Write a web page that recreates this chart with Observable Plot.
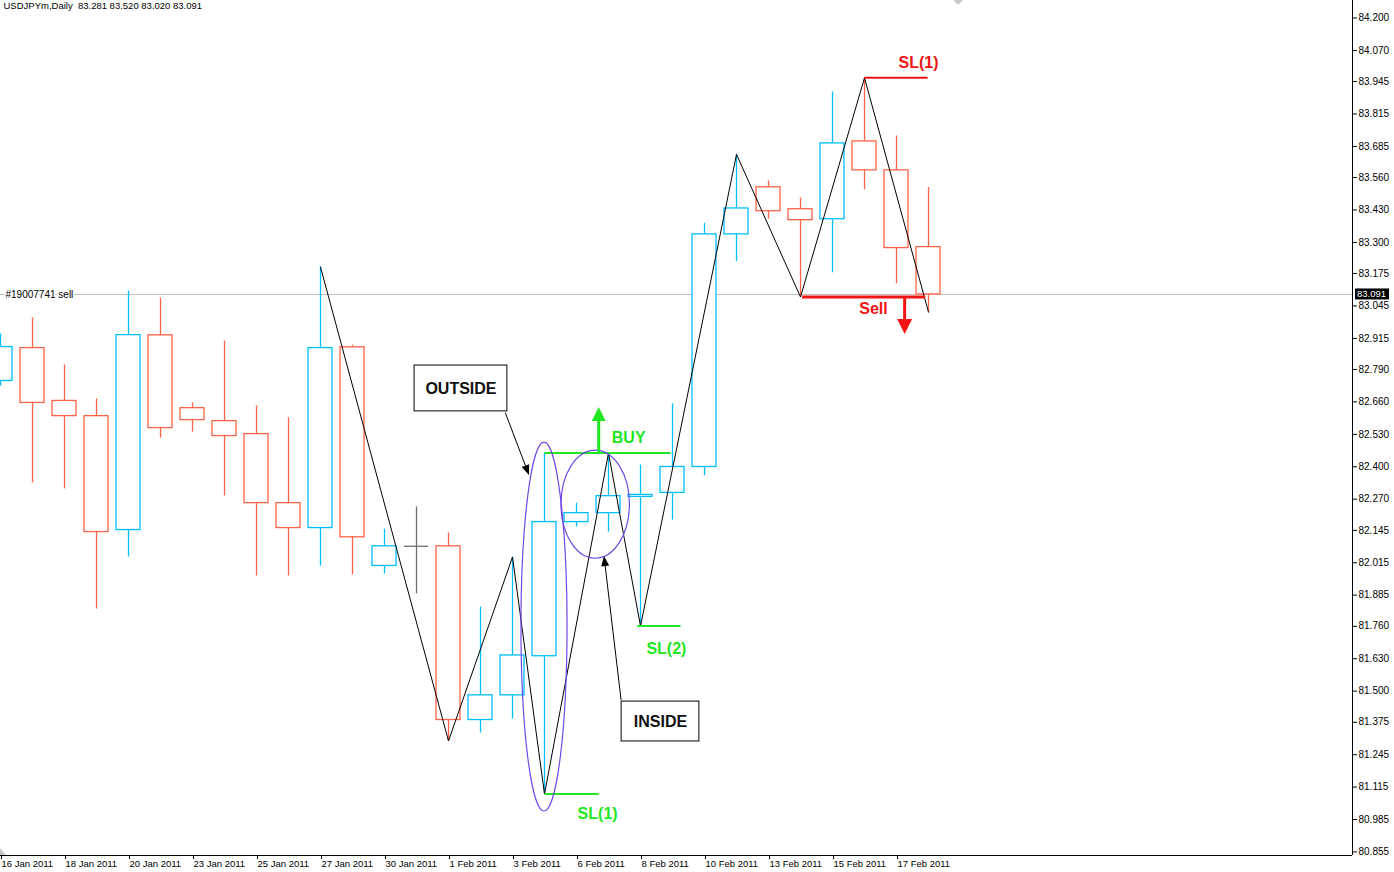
<!DOCTYPE html>
<html>
<head>
<meta charset="utf-8">
<script src="https://cdn.jsdelivr.net/npm/d3@7"></script>
<script src="https://cdn.jsdelivr.net/npm/@observablehq/plot@0.6"></script>
<style>
  body { margin: 0; background: white; }
</style>
</head>
<body>
<div id="chart"></div>
<script>
// USDJPYm daily candles, 16 Jan - 18 Feb 2011
const dates = ["16 Jan 2011","17 Jan 2011","18 Jan 2011","19 Jan 2011","20 Jan 2011","21 Jan 2011",
  "23 Jan 2011","24 Jan 2011","25 Jan 2011","26 Jan 2011","27 Jan 2011","28 Jan 2011",
  "30 Jan 2011","31 Jan 2011","1 Feb 2011","2 Feb 2011","3 Feb 2011","4 Feb 2011",
  "6 Feb 2011","7 Feb 2011","8 Feb 2011","9 Feb 2011","10 Feb 2011","11 Feb 2011",
  "13 Feb 2011","14 Feb 2011","15 Feb 2011","16 Feb 2011","17 Feb 2011","18 Feb 2011"];
const opens  = [82.744,82.876,82.664,82.603,82.146,82.927,82.635,82.583,82.531,82.254,82.154,82.879,
  82.002,82.081,82.081,81.384,81.483,81.640,82.178,82.214,82.279,82.295,82.399,83.332,
  83.521,83.433,83.393,83.705,83.589,83.281];
const highs  = [82.932,82.997,82.808,82.672,83.105,83.077,82.656,82.904,82.644,82.596,83.201,82.888,
  82.150,82.239,82.134,81.837,82.038,82.455,82.254,82.455,82.407,82.652,83.376,83.653,
  83.546,83.478,83.903,83.960,83.727,83.520];
const lows   = [82.724,82.335,82.311,81.829,82.038,82.515,82.539,82.283,81.962,81.962,82.002,81.966,
  81.970,81.890,81.300,81.332,81.388,81.087,82.158,82.138,81.761,82.186,82.364,83.223,
  83.393,83.081,83.178,83.511,83.134,83.020];
const closes = [82.880,82.656,82.603,82.138,82.928,82.555,82.587,82.523,82.254,82.154,82.876,82.117,
  82.081,82.081,81.384,81.483,81.643,82.178,82.214,82.282,82.287,82.399,83.332,83.436,
  83.425,83.389,83.697,83.589,83.277,83.091];

// right price scale labels
const yTicks = [84.200,84.070,83.945,83.815,83.685,83.560,83.430,83.300,83.175,83.045,82.915,82.790,
  82.660,82.530,82.400,82.270,82.145,82.015,81.885,81.760,81.630,81.500,81.375,81.245,81.115,80.985,80.855];
// every second bar gets a date label
const xTicks = d3.range(0, dates.length, 2);

// zigzag turning points (bar index, price)
const zzIndex = [10, 14, 16, 17, 19, 20, 23, 25, 27, 29];
const zzPrice = [83.201, 81.300, 82.038, 81.087, 82.455, 81.761, 83.653, 83.081, 83.960, 83.020];

// trade levels: from bar, to bar, price
const levelNames = ["SL(1) buy", "BUY", "SL(2)", "SL(1) sell", "Sell"];
const levelFrom  = [17, 17, 19.9, 27, 25.05];
const levelTo    = [18.69, 20.94, 21.25, 28.97, 28.9];
const levelPrice = [81.087, 82.455, 81.761, 83.960, 83.081];
const levelSide  = ["buy", "buy", "buy", "sell", "sell"];

// text labels on the chart
const noteText  = ["SL(1)", "BUY", "SL(2)", "SL(1)", "Sell"];
const noteIndex = [18.66, 19.63, 20.81, 28.69, 27.28];
const notePrice = [81.009, 82.517, 81.671, 84.019, 83.035];
const noteSide  = ["buy", "buy", "buy", "sell", "sell"];

// boxed pattern names
const boxText  = ["OUTSIDE", "INSIDE"];
const boxFrom  = [12.94, 19.41];
const boxTo    = [15.84, 21.84];
const boxLow   = [82.622, 81.298];
const boxHigh  = [82.806, 81.458];

// ellipses round the two bars (bar range, price range)
const ringFrom = [16.28, 17.53];
const ringTo   = [17.72, 19.67];
const ringLow  = [81.017, 82.031];
const ringHigh = [82.497, 82.465];

// arrows: start bar/price, end bar/price
const arrowKind  = ["pointer", "pointer", "buy", "sell"];
const arrowFromX = [15.79, 19.41, 18.71, 28.27];
const arrowFromY = [82.615, 81.462, 82.455, 83.081];
const arrowToX   = [16.53, 18.875, 18.71, 28.27];
const arrowToY   = [82.365, 82.040, 82.638, 82.930];

// chart shift marker position (bar index)
const shiftIndex = 29.94;

const orderLabel = "#19007741 sell";
const header = "USDJPYm,Daily\u00a0 83.281 83.520 83.020 83.091";

const up = "#00bfff", down = "#ff6347", flat = "#707070";
const green = "#22e622", red = "#f41414";
const sideColor = {buy: green, sell: red};
const arrowStyle = {
  pointer: {color: "black", width: 1, head: 10, half: 4},
  buy: {color: green, width: 3, head: 14, half: 7},
  sell: {color: red, width: 3, head: 15, half: 7.5}
};

const candles = dates.map((date, i) => ({
  i, date, open: opens[i], high: highs[i], low: lows[i], close: closes[i]
}));
const candleColor = d => d.close > d.open ? up : d.close < d.open ? down : flat;
const bodies = candles.filter(d => d.close !== d.open);
const dojis = candles.filter(d => d.close === d.open);
const zigzag = zzIndex.map((i, k) => ({i, price: zzPrice[k]}));
const levels = levelNames.map((name, k) => ({name, x1: levelFrom[k], x2: levelTo[k], price: levelPrice[k], side: levelSide[k]}));
const notes = noteText.map((text, k) => ({text, i: noteIndex[k], price: notePrice[k], side: noteSide[k]}));
const boxes = boxText.map((text, k) => ({text, x1: boxFrom[k], x2: boxTo[k], y1: boxLow[k], y2: boxHigh[k]}));
const rings = ringFrom.map((x1, k) => ({x1, x2: ringTo[k], y1: ringLow[k], y2: ringHigh[k]}));
const arrows = arrowKind.map((kind, k) => ({kind, x1: arrowFromX[k], y1: arrowFromY[k], x2: arrowToX[k], y2: arrowToY[k]}));
const last = candles[candles.length - 1];

const xDomain = [0, 42.25];
const yDomain = [80.8406, 84.2702];

// ellipses, filled arrow heads and the price tag, placed with the plot's scales
function overlay(index, {x, y}, values, dims) {
  const g = d3.create("svg:g");
  for (const e of rings) {
    g.append("ellipse")
      .attr("cx", (x(e.x1) + x(e.x2)) / 2)
      .attr("cy", (y(e.y1) + y(e.y2)) / 2)
      .attr("rx", Math.abs(x(e.x2) - x(e.x1)) / 2)
      .attr("ry", Math.abs(y(e.y2) - y(e.y1)) / 2)
      .attr("fill", "none")
      .attr("stroke", "#7048e8")
      .attr("stroke-width", 1.2);
  }
  for (const a of arrows) {
    const st = arrowStyle[a.kind];
    const x1 = x(a.x1), y1 = y(a.y1), x2 = x(a.x2), y2 = y(a.y2);
    const ang = Math.atan2(y2 - y1, x2 - x1);
    const bx = x2 - st.head * Math.cos(ang), by = y2 - st.head * Math.sin(ang);
    const nx = -Math.sin(ang) * st.half, ny = Math.cos(ang) * st.half;
    g.append("line")
      .attr("x1", x1).attr("y1", y1).attr("x2", bx).attr("y2", by)
      .attr("stroke", st.color).attr("stroke-width", st.width);
    g.append("path")
      .attr("d", `M${x2},${y2}L${bx + nx},${by + ny}L${bx - nx},${by - ny}Z`)
      .attr("fill", st.color);
  }
  // current price tag on the scale
  const tx = dims.width - dims.marginRight + 3, ty = y(last.close);
  g.append("rect")
    .attr("x", tx).attr("y", ty - 5.5).attr("width", 34).attr("height", 11)
    .attr("fill", "black");
  g.append("text")
    .attr("x", tx + 2).attr("y", ty).attr("dy", "0.35em")
    .attr("text-anchor", "start")
    .attr("fill", "white").attr("font-size", 9.5)
    .text(d3.format(".3f")(last.close));
  // small grey markers: chart shift (top) and scroll corner (bottom left)
  const sx = x(shiftIndex), bottom = dims.height - dims.marginBottom;
  g.append("path")
    .attr("d", `M${sx - 5},0L${sx + 5},0L${sx},5Z`)
    .attr("fill", "#c8c8c8");
  g.append("path")
    .attr("d", `M${dims.marginLeft},${bottom - 7}L${dims.marginLeft + 6},${bottom}L${dims.marginLeft},${bottom}Z`)
    .attr("fill", "#c8c8c8");
  return g.node();
}

const chart = Plot.plot({
  width: 1394,
  height: 872,
  marginLeft: 0,
  marginRight: 42,
  marginTop: 0,
  marginBottom: 17,
  style: {fontFamily: "Liberation Sans, Arial, sans-serif", background: "white", color: "black"},
  x: {domain: xDomain, axis: null},
  y: {domain: yDomain, axis: null},
  marks: [
    // current price line and order label
    Plot.ruleY([last.close], {stroke: "#c0c0c0"}),
    Plot.text([orderLabel], {x: xDomain[0], y: last.close, text: d => d, textAnchor: "start", dx: 5,
      fontSize: 10, fill: "black", stroke: "white", strokeWidth: 3}),
    // candles
    Plot.ruleX(candles, {x: "i", y1: "low", y2: "high", stroke: candleColor, strokeWidth: 1.3}),
    Plot.rect(bodies, {x1: d => d.i - 0.5, x2: d => d.i + 0.5, insetLeft: 4, insetRight: 4,
      y1: "open", y2: "close", fill: "white", stroke: candleColor, strokeWidth: 1.3}),
    Plot.ruleY(dojis, {y: "open", x1: d => d.i - 0.375, x2: d => d.i + 0.375, stroke: flat, strokeWidth: 1.3}),
    // zigzag
    Plot.line(zigzag, {x: "i", y: "price", stroke: "black", strokeWidth: 1}),
    // trade levels
    Plot.link(levels, {x1: "x1", x2: "x2", y1: "price", y2: "price",
      stroke: d => sideColor[d.side], strokeWidth: d => d.name === "Sell" ? 3 : 2}),
    Plot.text(notes, {x: "i", y: "price", text: "text", fill: d => sideColor[d.side],
      fontSize: 16, fontWeight: "bold"}),
    // pattern boxes
    Plot.rect(boxes, {x1: "x1", x2: "x2", y1: "y1", y2: "y2", fill: "white", stroke: "black", strokeWidth: 1}),
    Plot.text(boxes, {x: d => (d.x1 + d.x2) / 2, y: d => (d.y1 + d.y2) / 2, text: "text",
      fontSize: 16, fontWeight: "bold", fill: "#111"}),
    overlay,
    // axes
    Plot.ruleX([xDomain[1]], {stroke: "black"}),
    Plot.ruleY([yDomain[0]], {stroke: "black"}),
    Plot.axisY({anchor: "right", ticks: yTicks, tickFormat: d3.format(".3f"), tickSize: 4,
      tickPadding: 2, fontSize: 10, label: null}),
    Plot.axisX({anchor: "bottom", ticks: xTicks, tickFormat: i => dates[i], tickSize: 4,
      tickPadding: 1, textAnchor: "start", dx: 1, fontSize: 9.5, label: null}),
    // header
    Plot.text([header], {frameAnchor: "top-left", text: d => d, dx: 3, dy: 2, fontSize: 9.5, fill: "black"})
  ]
});

document.getElementById("chart").appendChild(chart);
</script>
</body>
</html>
